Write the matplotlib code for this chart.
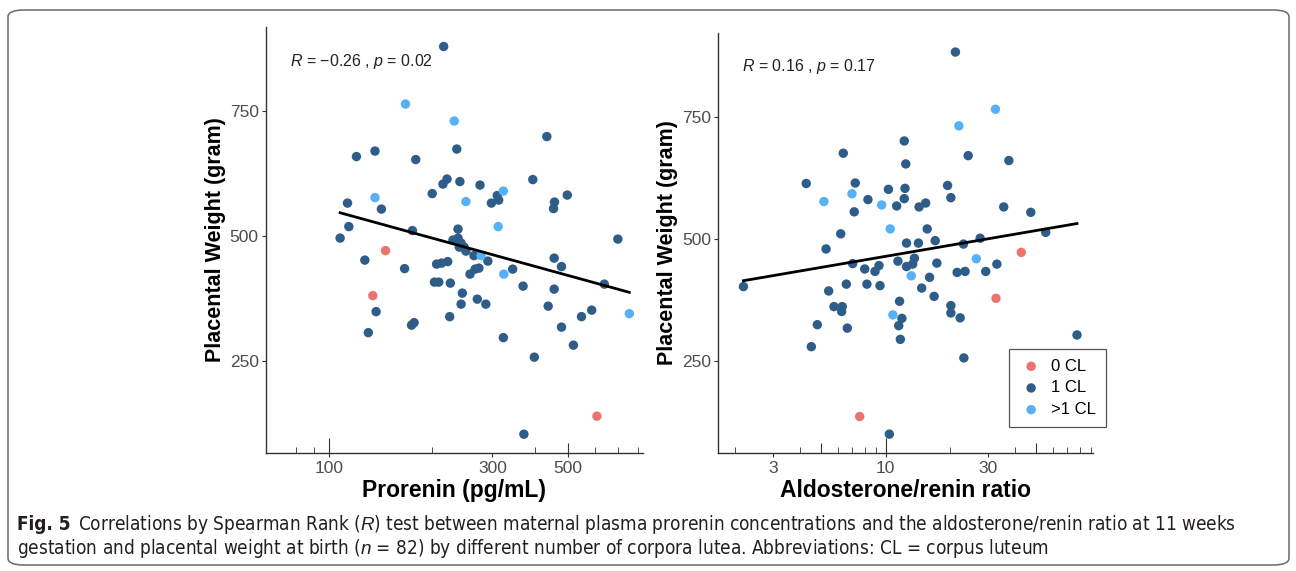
import numpy as np
import matplotlib
matplotlib.use('Agg')
import matplotlib.pyplot as plt
from matplotlib.patches import FancyBboxPatch
from matplotlib.ticker import NullLocator, NullFormatter

plt.rcParams['font.family'] = ['Liberation Sans', 'DejaVu Sans']
plt.rcParams['mathtext.fontset'] = 'custom'
plt.rcParams['mathtext.it'] = 'Liberation Sans:italic'
plt.rcParams['mathtext.rm'] = 'Liberation Sans'

groups = ['0 CL', '1 CL', '>1 CL']
colors = ['#EC7470', '#2D5D88', '#56B1F7']

# left panel: prorenin (pg/mL) vs placental weight, group index into groups
prorenin = [216, 167, 232, 433, 120, 136, 179, 236, 215, 221, 241, 276, 200, 136, 113,
            142, 251, 323, 310, 313, 298, 394, 497, 456, 453, 114, 107.5, 175, 312, 238,
            699, 146, 127, 134, 137, 130, 166, 206, 213, 222, 203, 209, 226, 245, 243,
            225, 174, 177, 265, 278, 291, 258, 267, 274, 271, 287, 324, 344, 369, 323,
            398, 371, 455, 478, 455, 437, 478, 518, 547, 586, 638, 755, 607,
            230, 238, 243, 248, 240, 251]
weight_pro = [878, 763, 729, 698, 658, 669, 652, 673, 603, 613, 608, 601, 584, 576, 565,
              553, 568, 589, 580, 571, 565, 612, 581, 567, 554, 518, 495, 510, 518, 513,
              493, 470, 451, 380, 348, 306, 434, 443, 445, 448, 407, 407, 405, 385, 363,
              338, 321, 326, 460, 460, 449, 423, 433, 435, 373, 363, 423, 433, 399, 296,
              257, 103, 455, 438, 393, 359, 317, 281, 338, 351, 403, 344, 139,
              491, 495, 485, 477, 477, 469]
group_pro = [1, 2, 2, 1, 1, 1, 1, 1, 1, 1, 1, 1, 1, 2, 1,
             1, 2, 2, 1, 1, 1, 1, 1, 1, 1, 1, 1, 1, 2, 1,
             1, 0, 1, 0, 1, 1, 1, 1, 1, 1, 1, 1, 1, 1, 1,
             1, 1, 1, 1, 2, 1, 1, 1, 1, 1, 1, 2, 1, 1, 1,
             1, 1, 1, 1, 1, 1, 1, 1, 1, 1, 1, 2, 0,
             1, 1, 1, 1, 1, 1]

# right panel: aldosterone/renin ratio vs placental weight
arr = [21.1, 32.4, 21.9, 12.2, 6.35, 12.4, 24.2, 37.4, 4.27, 7.22, 5.16, 6.97, 8.27, 9.58,
       10.3, 12.3, 12.2, 11.25, 14.3, 15.35, 19.4, 20.1, 7.14, 35.4, 47.3, 10.5, 15.6, 6.18,
       55.5, 12.5, 14.2, 17.0, 5.28, 23.0, 27.5, 42.7, 2.18, 7.02, 7.99, 8.92, 9.31, 11.4,
       12.5, 13.35, 13.6, 17.3, 26.4, 32.9, 21.5, 23.4, 29.2, 13.15, 16.0, 5.43, 6.56, 8.18,
       9.41, 14.7, 16.8, 32.6, 11.6, 5.75, 6.28, 6.24, 6.63, 4.81, 4.51, 10.8, 11.9, 11.5,
       11.7, 20.1, 20.1, 22.2, 23.1, 77.6, 7.57, 10.4]
weight_arr = [882, 765, 731, 700, 675, 653, 670, 660, 613, 614, 576, 592, 580, 569,
              601, 603, 582, 567, 565, 573, 609, 584, 555, 565, 554, 520, 520, 510,
              513, 491, 491, 496, 479, 489, 501, 472, 402, 449, 438, 433, 445, 454,
              443, 448, 460, 450, 459, 448, 431, 433, 433, 424, 421, 393, 407, 407,
              404, 399, 382, 378, 372, 361, 361, 351, 317, 324, 279, 344, 337, 322,
              294, 363, 348, 338, 256, 303, 136, 100]
group_arr = [1, 2, 2, 1, 1, 1, 1, 1, 1, 1, 2, 2, 1, 2,
             1, 1, 1, 1, 1, 1, 1, 1, 1, 1, 1, 2, 1, 1,
             1, 1, 1, 1, 1, 1, 1, 0, 1, 1, 1, 1, 1, 1,
             1, 1, 1, 1, 2, 1, 1, 1, 1, 2, 1, 1, 1, 1,
             1, 1, 1, 0, 1, 1, 1, 1, 1, 1, 1, 2, 1, 1,
             1, 1, 1, 1, 1, 1, 0, 1]

W, H = 1296, 571
fig = plt.figure(figsize=(W / 100, H / 100), dpi=100)

def add_ax(x0, y0, x1, y1):
    return fig.add_axes([x0 / W, 1 - y1 / H, (x1 - x0) / W, (y1 - y0) / H])

def panel(ax, x, y, g, xlim, ylim, major, minor, long_t, mid_t, xlabel, note):
    x = np.array(x, float)
    y = np.array(y, float)
    g = np.array(g)
    ax.set_xscale('log')
    for k in range(3):
        m = g == k
        ax.scatter(x[m], y[m], s=46, color=colors[k], edgecolors='none',
                   label=groups[k], zorder=3)
    # linear fit on log10(x)
    lx = np.log10(x)
    b, a = np.polyfit(lx, y, 1)
    xs = np.logspace(lx.min(), lx.max(), 50)
    ax.plot(xs, a + b * np.log10(xs), color='black', lw=2, zorder=4)
    ax.set_xlim(*xlim)
    ax.set_ylim(*ylim)
    for s in ['top', 'right']:
        ax.spines[s].set_visible(False)
    for s in ['left', 'bottom']:
        ax.spines[s].set_color('#333333')
        ax.spines[s].set_linewidth(1)
    ax.set_yticks([250, 500, 750])
    ax.set_xticks(major, labels=[str(v) for v in major])
    ax.set_xticks(minor, minor=True)
    ax.xaxis.set_minor_formatter(NullFormatter())
    ax.tick_params(axis='y', direction='out', length=3, color='#333333',
                   labelsize=12.5, labelcolor='#4D4D4D', pad=2)
    ax.tick_params(axis='x', which='major', direction='out', length=3, color='#333333',
                   labelsize=12.5, labelcolor='#4D4D4D', pad=3)
    ax.tick_params(axis='x', which='minor', direction='in', length=4, color='#333333')
    # log ticks: long at 10^k, mid at 5*10^k
    for pos, ln in [(long_t, 10.5), (mid_t, 7.5)]:
        sec = ax.secondary_xaxis('bottom')
        sec.spines['bottom'].set_visible(False)
        sec.set_xticks(pos, labels=[''] * len(pos))
        sec.xaxis.set_minor_locator(NullLocator())
        sec.tick_params(direction='in', length=ln, width=0.8, color='#333333')
    ax.set_xlabel(xlabel, fontsize=16.5, fontweight='bold', labelpad=2)
    ax.set_ylabel('Placental Weight (gram)', fontsize=15.5, fontweight='bold', labelpad=3)
    ax.text(0.064, 0.92, note, transform=ax.transAxes, fontsize=11.5, color='#222222',
            ha='left', va='center')

ax1 = add_ax(265.7, 27, 643, 452.7)
panel(ax1, prorenin, weight_pro, group_pro, (65.1, 828), (66, 917),
      [100, 300, 500], [80, 90, 200, 300, 400, 600, 700, 800], [100], [500],
      'Prorenin (pg/mL)', '$R$ = \u22120.26 , $p$ = 0.02')

ax2 = add_ax(718, 33, 1092.7, 452.7)
panel(ax2, arr, weight_arr, group_arr, (1.66, 91.8), (62, 921),
      [3, 10, 30], [2, 3, 4, 6, 7, 8, 9, 20, 30, 40, 60, 70, 80, 90], [10], [5, 50],
      'Aldosterone/renin ratio', '$R$ = 0.16 , $p$ = 0.17')

leg = ax2.legend(loc='lower right', bbox_to_anchor=(1.0355, 0.0612), borderaxespad=0,
                 fontsize=12, frameon=True, fancybox=False, framealpha=1,
                 handletextpad=0.5, borderpad=0.6, labelspacing=0.4, handlelength=1.4)
leg.get_frame().set_edgecolor('#555555')
leg.get_frame().set_linewidth(0.9)

# rounded border around the whole figure
fig.patches.append(FancyBboxPatch((8 / W, 6 / H), 1281 / W, 555 / H,
                                  boxstyle='round,pad=0,rounding_size=0.012',
                                  transform=fig.transFigure, fill=False,
                                  edgecolor='#6a6a6a', linewidth=1.1))

cap_kw = dict(family=['DejaVu Sans'], fontstretch='condensed', fontsize=13.6,
              color='#231F20', va='center')
line1 = ('Correlations by Spearman Rank ($R$) test between maternal plasma prorenin '
         'concentrations and the aldosterone/renin ratio at 11 weeks')
line2 = ('gestation and placental weight at birth ($n$ = 82) by different number of '
         'corpora lutea. Abbreviations: CL = corpus luteum')
t = fig.text(17 / W, 1 - 524 / H, 'Fig. 5', fontweight='bold', **cap_kw)
r = fig.canvas.get_renderer()
bb = t.get_window_extent(r)
fig.text(bb.x1 / W + 8 / W, 1 - 524 / H, line1, **cap_kw)
fig.text(17 / W, 1 - 549 / H, line2, **cap_kw)

fig.savefig('out.png', dpi=100)
